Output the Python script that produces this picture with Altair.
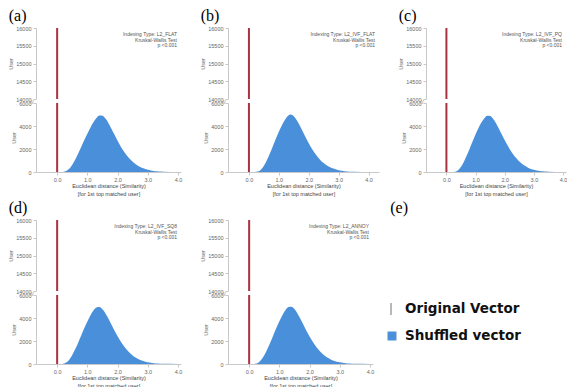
import altair as alt
import pandas as pd

# ---------------- data ----------------
dist_x = [0.0, 0.1, 0.2, 0.3, 0.4, 0.5, 0.6, 0.7, 0.8, 0.9, 1.0, 1.1, 1.2, 1.3,
          1.4, 1.5, 1.6, 1.7, 1.8, 1.9, 2.0, 2.1, 2.2, 2.3, 2.4, 2.5, 2.6, 2.7,
          2.8, 2.9, 3.0, 3.1, 3.2, 3.3, 3.4, 3.5, 4.0]
users_a = [0, 0, 10, 80, 280, 620, 1080, 1620, 2200, 2780, 3330, 3850, 4320, 4700,
           4920, 4900, 4650, 4250, 3750, 3230, 2720, 2250, 1830, 1460, 1150, 890, 680,
           510, 380, 280, 200, 140, 95, 65, 40, 25, 0]
users_b = [0, 0, 0, 40, 200, 540, 1020, 1600, 2250, 2900, 3500, 4050, 4520, 4880,
           5000, 4850, 4500, 4050, 3530, 3000, 2500, 2050, 1650, 1300, 1010, 780, 590,
           440, 320, 230, 160, 110, 75, 50, 30, 20, 0]
users_c = [0, 0, 0, 30, 160, 460, 900, 1450, 2050, 2680, 3280, 3830, 4300, 4680,
           4900, 4880, 4640, 4250, 3770, 3260, 2760, 2300, 1880, 1510, 1190, 920, 700,
           520, 380, 270, 190, 130, 90, 60, 38, 22, 0]
users_d = [0, 0, 20, 120, 380, 780, 1300, 1880, 2500, 3120, 3700, 4220, 4650, 4920,
           4950, 4760, 4400, 3930, 3420, 2900, 2420, 1980, 1590, 1260, 980, 750, 560,
           410, 300, 210, 150, 100, 70, 45, 28, 15, 0]
users_e = [0, 0, 15, 110, 360, 760, 1280, 1870, 2500, 3130, 3720, 4250, 4680, 4950,
           4980, 4780, 4400, 3920, 3400, 2880, 2390, 1950, 1560, 1230, 950, 720, 540,
           400, 290, 205, 145, 100, 68, 45, 28, 15, 0]

index_types = ["L2_FLAT", "L2_IVF_FLAT", "L2_IVF_PQ", "L2_IVF_SQ8", "L2_ANNOY"]
panel_labels = ["(a)", "(b)", "(c)", "(d)", ""]
test_name = "Kruskal-Wallis Test"
p_text = "p <0.001"
orig_x = [0.0]
top_ticks = [14000, 14500, 15000, 15500, 16000]
bottom_ticks = [0, 2000, 4000, 6000]
x_ticks = [0, 1, 2, 3, 4]
x_title = ["Euclidean distance (Similarity)", "[for 1st top matched user]"]
legend_labels = ["Original Vector", "Shuffled vector"]
legend_panel_label = "(e)"
break_mark = "//"

RED = "#a8323f"
BLUE = "#4a8fd9"
AX = "#c8c8c8"
LAB = "#666666"
TOP_H = 71
BOT_H = 69
SMALL = 5.5
LETTER = 16


def yaxis(ticks):
    return alt.Axis(values=ticks, format="d", title="User", grid=False, labelFontSize=SMALL,
                    titleFontSize=SMALL, titleFontWeight="normal", labelColor=LAB,
                    titleColor=LAB, domainColor=AX, tickColor=AX, tickSize=3,
                    labelPadding=2, titlePadding=2, labelFont="Liberation Sans",
                    titleFont="Liberation Sans", labelOverlap=False)


xaxis = alt.Axis(values=x_ticks, format=".1f", title=x_title, grid=False,
                 labelFontSize=SMALL, titleFontSize=SMALL, titleFontWeight="normal",
                 labelColor=LAB, titleColor="#444444", domainColor=AX, tickColor=AX,
                 tickSize=3, labelPadding=2, titlePadding=1, labelOverlap=False,
                 labelFont="Liberation Sans", titleFont="Liberation Sans")


def panel(i, users, width, xmax):
    xs = alt.Scale(domain=[-0.7, xmax], nice=False, zero=False)
    ys_top = alt.Scale(domain=[top_ticks[0], top_ticks[-1]], nice=False, zero=False)
    ys_bot = alt.Scale(domain=[bottom_ticks[0], bottom_ticks[-1]], nice=False)
    df = pd.DataFrame({"x": dist_x, "users": users})
    top_df = pd.DataFrame({"x": orig_x, "y": [top_ticks[0]], "y2": [top_ticks[-1]]})
    bot_df = pd.DataFrame({"x": orig_x, "y": [bottom_ticks[0]], "y2": [bottom_ticks[-1]]})
    note_df = pd.DataFrame({"t": ["Indexing Type: " + index_types[i] + "\n" + test_name + "\n" + p_text]})

    top_rule = alt.Chart(top_df).mark_rule(color=RED, strokeWidth=2).encode(
        x=alt.X("x:Q", scale=xs, axis=None),
        y=alt.Y("y:Q", scale=ys_top, axis=yaxis(top_ticks)),
        y2="y2:Q",
    )
    note = alt.Chart(note_df).mark_text(
        align="right", baseline="top", fontSize=5, lineHeight=5.5, lineBreak="\n",
        color="#555555", font="Liberation Sans"
    ).encode(x=alt.value(width - 4), y=alt.value(4), text="t:N")

    top_props = dict(width=width, height=TOP_H)
    if panel_labels[i]:
        top_props["title"] = alt.TitleParams(
            text=panel_labels[i], anchor="start", font="Liberation Serif", fontSize=LETTER,
            fontWeight="normal", color="black", dx=0, offset=2)
    top = alt.layer(top_rule, note).properties(**top_props)

    area = alt.Chart(df).mark_area(color=BLUE, opacity=1, interpolate="monotone").encode(
        x=alt.X("x:Q", scale=xs, axis=xaxis),
        y=alt.Y("users:Q", scale=ys_bot, axis=yaxis(bottom_ticks)),
    )
    bot_rule = alt.Chart(bot_df).mark_rule(color=RED, strokeWidth=2).encode(
        x=alt.X("x:Q", scale=xs, axis=xaxis),
        y=alt.Y("y:Q", scale=ys_bot, axis=yaxis(bottom_ticks)),
        y2="y2:Q",
    )
    brk = alt.Chart(pd.DataFrame({"m": [break_mark]})).mark_text(
        fontSize=6, color="#888888", align="center", baseline="middle",
        font="Liberation Sans"
    ).encode(x=alt.value(-4), y=alt.value(-1), text="m:N")
    bottom = alt.layer(area, bot_rule, brk).properties(width=width, height=BOT_H)
    return top, bottom


def blank(h, title=None):
    c = alt.Chart(pd.DataFrame({"v": [0]})).mark_point(opacity=0).encode(
        x=alt.value(0), y=alt.value(0))
    props = dict(width=10, height=h)
    if title:
        props["title"] = title
    return c.properties(**props)


ta, ba = panel(0, users_a, 145, 4.1)
tb, bb = panel(1, users_b, 151, 4.35)
tc, bc = panel(2, users_c, 140, 4.1)
td, bd = panel(3, users_d, 145, 4.1)
te, be = panel(4, users_e, 145, 4.1)

leg_df = pd.DataFrame({"label": legend_labels, "row": [0, 1]})
leg_y = alt.Y("row:O", axis=None, scale=alt.Scale(type="point", range=[14, 41], padding=0))
leg_text = alt.Chart(leg_df).mark_text(
    align="left", baseline="middle", fontSize=13.5, fontWeight="bold",
    font="DejaVu Sans", color="#111111"
).encode(x=alt.value(-21), y=leg_y, text="label:N")
leg_tick = alt.Chart(leg_df).transform_filter("datum.row == 0").mark_tick(
    orient="vertical", size=12, thickness=1.5, color="#777777"
).encode(x=alt.value(-35), y=leg_y)
leg_sq = alt.Chart(leg_df).transform_filter("datum.row == 1").mark_square(
    size=80, color=BLUE, opacity=1
).encode(x=alt.value(-34), y=leg_y)
legend = alt.layer(leg_text, leg_tick, leg_sq).properties(width=10, height=BOT_H)

e_title = alt.TitleParams(text=legend_panel_label, anchor="start", font="Liberation Serif",
                          fontSize=LETTER, fontWeight="normal", color="black", dx=-33, offset=1)

cells = [ta, tb, tc,
         ba, bb, bc,
         blank(40), blank(40), blank(40),
         td, te, blank(TOP_H, e_title),
         bd, be, legend]

chart = alt.concat(*cells, columns=3, spacing={"row": 4, "column": 47},
                   bounds="flush", align="each").properties(
    padding=0, background="white"
).configure_view(strokeOpacity=0, strokeWidth=0)

chart.save("out.html", embed_options={"renderer": "svg", "actions": False})
